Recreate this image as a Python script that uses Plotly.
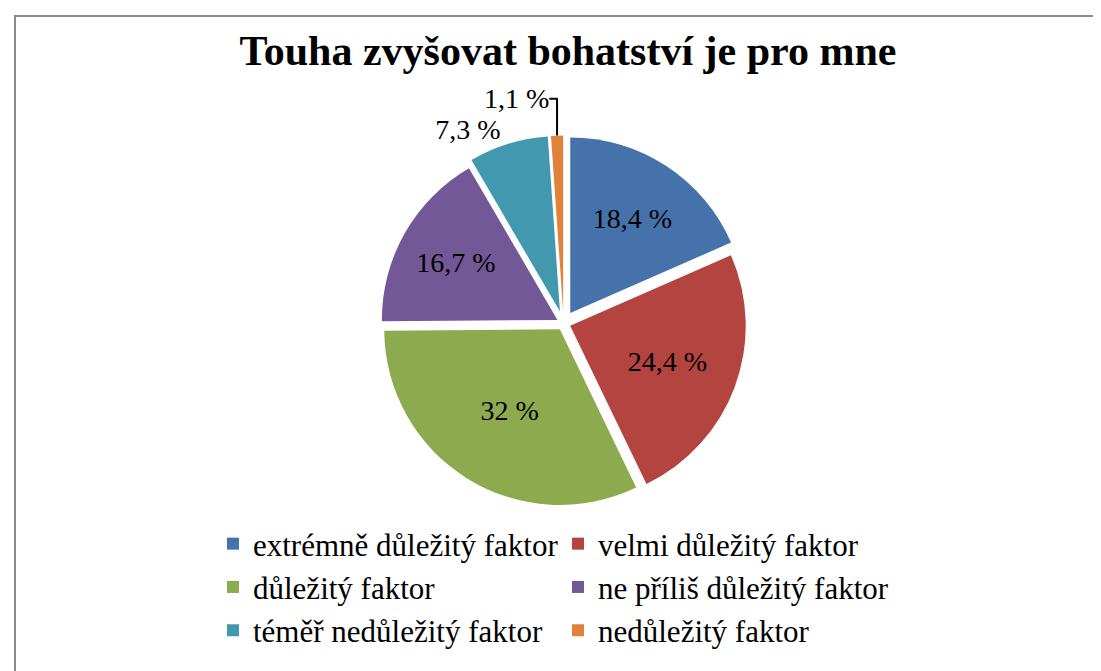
import plotly.graph_objects as go

categories = [
    "extrémně důležitý faktor",
    "velmi důležitý faktor",
    "důležitý faktor",
    "ne příliš důležitý faktor",
    "téměř nedůležitý faktor",
    "nedůležitý faktor",
]
values = [18.4, 24.4, 32, 16.7, 7.3, 1.1]
colors = ["#4672AB", "#B4443F", "#8DAA4E", "#725896", "#4299AF", "#E0833A"]
text_positions = ["inside", "inside", "inside", "inside", "outside", "outside"]

labels_text = [(f"{v:g}".replace(".", ",") + " %") for v in values]

SERIF = "Liberation Serif, Times New Roman, serif"
W, H = 1101, 671
ML, MR = 0, 100
PW = W - ML - MR

fig = go.Figure(
    go.Pie(
        labels=categories,
        values=values,
        text=labels_text,
        textinfo="text",
        textposition=text_positions,
        insidetextorientation="horizontal",
        sort=False,
        direction="clockwise",
        rotation=0,
        pull=[0.07, 0.04, 0.04, 0.04, 0.07, 0.07],
        marker=dict(colors=colors, line=dict(width=0)),
        textfont=dict(family=SERIF, size=28, color="black"),
        insidetextfont=dict(family=SERIF, size=28, color="black"),
        outsidetextfont=dict(family=SERIF, size=28, color="black"),
        domain=dict(x=[0.33, 0.78], y=[0.25, 0.81]),
        showlegend=True,
    )
)

fig.update_layout(
    width=W,
    height=H,
    margin=dict(l=ML, r=MR, t=0, b=0, autoexpand=False),
    paper_bgcolor="white",
    plot_bgcolor="white",
    font=dict(family=SERIF, color="black"),
    title=dict(
        text="<b>Touha zvyšovat bohatství je pro mne</b>",
        font=dict(family=SERIF, size=42, color="black"),
        x=560 / W,
        xanchor="center",
        xref="container",
        y=1 - 42 / H,
        yref="container",
        yanchor="middle",
    ),
    legend=dict(
        orientation="h",
        x=205 / PW,
        xanchor="left",
        y=1 - 509 / H,
        yanchor="top",
        font=dict(family=SERIF, size=31, color="black"),
        entrywidth=300,
        entrywidthmode="pixels",
        traceorder="normal",
        bgcolor="rgba(0,0,0,0)",
    ),
    shapes=[
        dict(
            type="rect",
            xref="paper",
            yref="paper",
            x0=7 / PW,
            x1=1.2,
            y0=-0.02,
            y1=1 - 8 / H,
            line=dict(color="#8c8c8c", width=2),
            fillcolor="rgba(0,0,0,0)",
            layer="below",
        )
    ],
)

fig.write_html("out.html")
